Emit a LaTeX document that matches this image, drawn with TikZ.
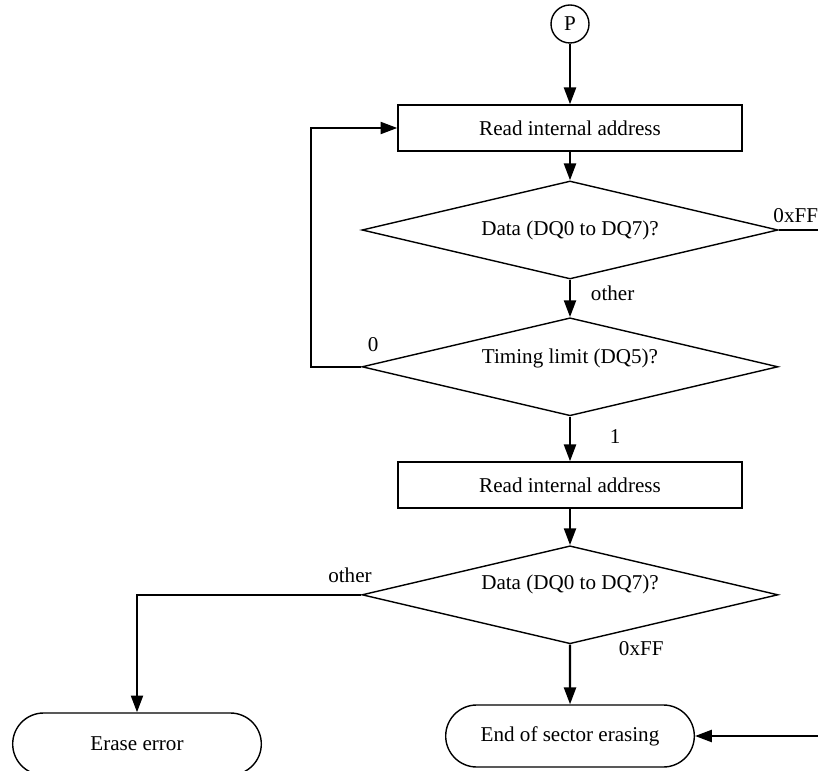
\documentclass[tikz,border=0pt]{standalone}
\usepackage{fontspec}
\setmainfont{Liberation Serif}
\usepackage{tikz}
\usetikzlibrary{positioning,arrows.meta,shapes.geometric,shapes.misc}

\begin{document}
\begin{tikzpicture}[
    every node/.style={font=\fontsize{15}{17}\selectfont},
    process/.style={draw,line width=1pt,minimum width=8.6cm,minimum height=1.15cm,inner sep=0pt},
    decision/.style={draw,diamond,aspect=4.2,line width=1pt,minimum width=10.4cm,minimum height=2.45cm,inner sep=0pt},
    terminal/.style={draw,rounded rectangle,line width=1pt,minimum width=6.45cm,minimum height=1.55cm},
    arr/.style={line width=1.6pt,-{Triangle[length=0.42cm,width=0.3cm]}},
    line/.style={line width=1.6pt}
]
    % Frame of the page
    \useasboundingbox (0,0) rectangle (20.45,19.25);
    \clip (0,0) rectangle (20.45,19.25);

    % Start connector
    \node[draw,circle,line width=1pt,minimum size=0.95cm,inner sep=0pt] (p) at (14.25,18.65) {P};

    % First read and check
    \node[process] (read1) at (14.25,16.05) {Read internal address};
    \node[decision] (data1) at (14.25,13.5) {Data (DQ0 to DQ7)?};
    \node[decision,label={[yshift=0.22cm]center:Timing limit (DQ5)?}] (limit) at (14.25,10.08) {};

    % Second read and check
    \node[process] (read2) at (14.25,7.125) {Read internal address};
    \node[decision,label={[yshift=0.25cm]center:Data (DQ0 to DQ7)?}] (data2) at (14.25,4.38) {};

    % End states
    \node[terminal] (done) at (14.25,0.85) {End of sector erasing};
    \node[terminal] (erase) at (3.425,0.65) {Erase error};

    % Free ends at the right edge
    \coordinate (exit1) at (20.6,13.5);
    \coordinate (exit2) at (20.6,0.85);

    % Connectors
    \draw[arr] (p) -- (read1);
    \draw[arr] (read1) -- (data1);
    \draw[arr] (data1) -- (limit);
    \draw[line] (data1.east) -- (exit1);
    \draw[arr] (limit.west) -- ++(-1.25,0) |- (read1.west);
    \draw[arr] (limit) -- (read2);
    \draw[arr] (read2) -- (data2);
    \draw[arr] (data2) -- (done);
    \draw[arr] (data2.west) -| (erase.north);
    \draw[arr] (exit2) -- (done.east);

    % Branch labels
    \node[anchor=west,inner sep=0pt] (l1) at (19.33,13.85) {0xFF};
    \node[anchor=west] (l2) at (14.65,11.93) {other};
    \node (l3) at (9.33,10.63) {0};
    \node (l4) at (15.38,8.33) {1};
    \node (l5) at (8.75,4.88) {other};
    \node[anchor=west] (l6) at (15.35,3.03) {0xFF};
\end{tikzpicture}
\end{document}
